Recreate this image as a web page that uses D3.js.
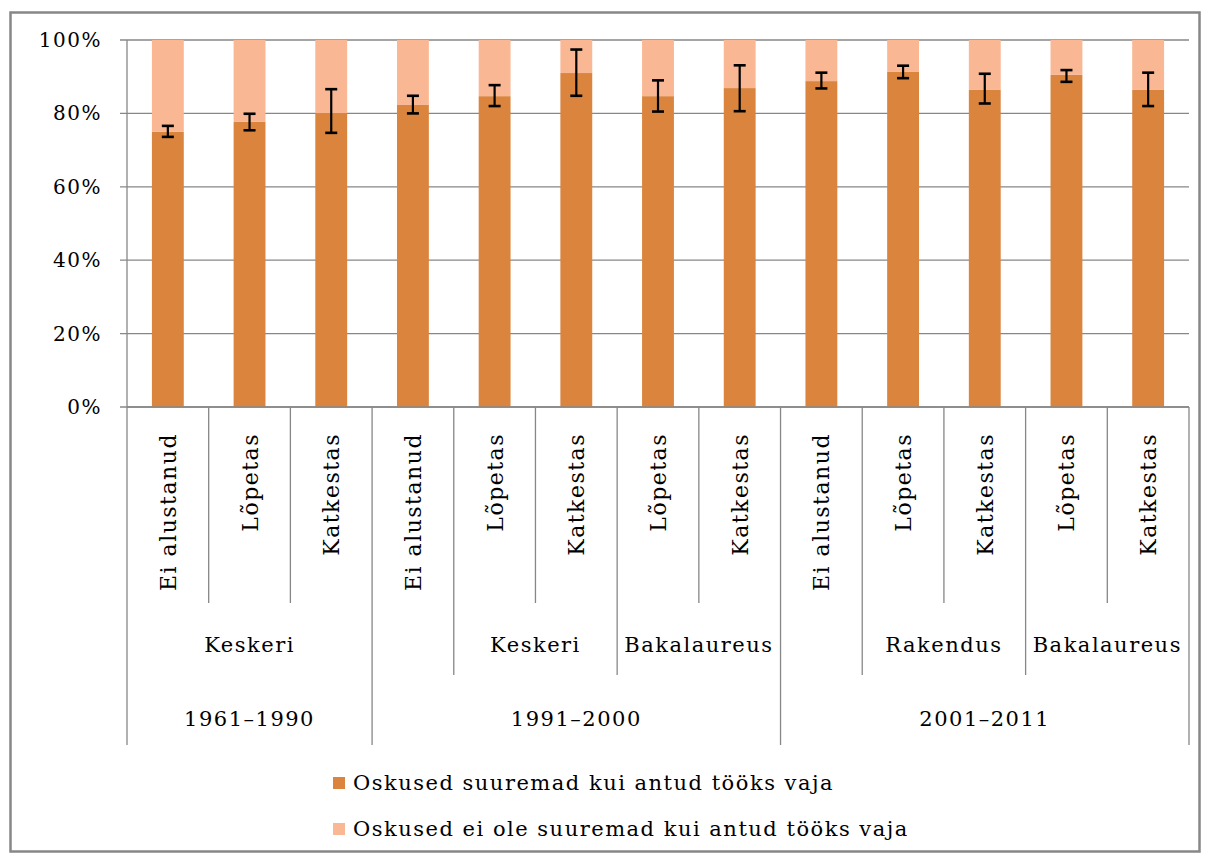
<!DOCTYPE html>
<html><head><meta charset="utf-8">
<script src="https://cdn.jsdelivr.net/npm/d3@7"></script>
<style>body{margin:0;background:#fff}svg{display:block}text{font-family:"DejaVu Serif",serif;fill:#000}</style>
</head><body><svg id="c" width="1206" height="858"></svg>
<script>
const leafLabels = ["Ei alustanud","Lõpetas","Katkestas","Ei alustanud","Lõpetas","Katkestas","Lõpetas","Katkestas","Ei alustanud","Lõpetas","Katkestas","Lõpetas","Katkestas"];
const level2Labels = ["Keskeri","Keskeri","Keskeri","","Keskeri","Keskeri","Bakalaureus","Bakalaureus","","Rakendus","Rakendus","Bakalaureus","Bakalaureus"];
const level3Labels = ["1961–1990","1961–1990","1961–1990","1991–2000","1991–2000","1991–2000","1991–2000","1991–2000","2001–2011","2001–2011","2001–2011","2001–2011","2001–2011"];
const seriesNames = ["Oskused suuremad kui antud tööks vaja","Oskused ei ole suuremad kui antud tööks vaja"];
const suuremad = [75.0,77.7,80.1,82.3,84.7,91.0,84.7,86.9,88.8,91.3,86.4,90.5,86.4];
const eiSuuremad = [25.0,22.3,19.9,17.7,15.3,9.0,15.3,13.1,11.2,8.7,13.6,9.5,13.6];
const errLow = [73.6,75.4,74.7,80.0,82.0,84.8,80.5,80.6,86.8,89.6,82.7,88.6,82.0];
const errHigh = [76.6,79.9,86.6,84.8,87.7,97.4,89.0,93.1,91.1,93.0,90.8,91.8,91.1];
const yTicks = [0,20,40,60,80,100];
const colors = ["#DB843D","#F9B793"];

const svg = d3.select("#c");
const grid = "#878787";
const L=127,R=1189,T=40,B=407;
const idx = d3.range(leafLabels.length);
const x = d3.scaleBand().domain(idx).range([L,R]).padding(0);
const y = d3.scaleLinear().domain([0,100]).range([B,T]);
const bw = x.bandwidth()*0.39;

// outer frame
svg.append("rect").attr("x",10.5).attr("y",12.5).attr("width",1189).attr("height",839)
  .attr("fill","none").attr("stroke",grid).attr("stroke-width",2.5);

// gridlines
svg.append("g").selectAll("line").data(yTicks).join("line")
  .attr("x1",L-7).attr("x2",R).attr("y1",d=>y(d)).attr("y2",d=>y(d))
  .attr("stroke",grid).attr("stroke-width",1.3);
svg.append("g").selectAll("text").data(yTicks).join("text")
  .attr("x",102).attr("y",d=>y(d)).attr("dy","0.35em").attr("text-anchor","end")
  .attr("font-size",20).attr("letter-spacing",1.5).text(d=>d+"%");

// stacked bars
const stackData = idx.map(i=>({i, a:suuremad[i], b:eiSuuremad[i]}));
const stack = d3.stack().keys(["a","b"])(stackData);
svg.append("g").selectAll("g").data(stack).join("g").attr("fill",(d,k)=>colors[k])
  .selectAll("rect").data(d=>d).join("rect")
  .attr("x",d=>x(d.data.i)+x.bandwidth()/2-bw/2).attr("width",bw)
  .attr("y",d=>y(d[1])).attr("height",d=>y(d[0])-y(d[1]));

// error bars
const eg = svg.append("g").attr("stroke","#000");
idx.forEach(i=>{
  const cx = x(i)+x.bandwidth()/2;
  eg.append("line").attr("x1",cx).attr("x2",cx).attr("y1",y(errLow[i])).attr("y2",y(errHigh[i])).attr("stroke-width",2.2);
  [errLow[i],errHigh[i]].forEach(v=>eg.append("line").attr("x1",cx-6).attr("x2",cx+6).attr("y1",y(v)).attr("y2",y(v)).attr("stroke-width",2.6));
});

// axes lines
svg.append("line").attr("x1",L).attr("x2",L).attr("y1",T).attr("y2",745).attr("stroke",grid).attr("stroke-width",1.3);
svg.append("line").attr("x1",L).attr("x2",R).attr("y1",B).attr("y2",B).attr("stroke",grid).attr("stroke-width",1.3);

// category separators
const Y1=603,Y2=675,Y3=745;
for(let i=1;i<=leafLabels.length;i++){
  let yEnd;
  if(i===leafLabels.length || level3Labels[i]!==level3Labels[i-1]) yEnd=Y3;
  else if(level2Labels[i]!==level2Labels[i-1] || level2Labels[i]==="") yEnd=Y2;
  else yEnd=Y1;
  const xx = i===leafLabels.length ? R : x(i);
  svg.append("line").attr("x1",xx).attr("x2",xx).attr("y1",B).attr("y2",yEnd).attr("stroke",grid).attr("stroke-width",1.3);
}

// leaf labels
svg.append("g").selectAll("text").data(idx).join("text")
  .attr("transform",i=>`translate(${x(i)+x.bandwidth()/2+8},433) rotate(-90)`)
  .attr("text-anchor","end").attr("font-size",22).attr("letter-spacing",1.5).text(i=>leafLabels[i]);

// grouped labels
function groups(keyFn){
  const out=[]; let s=0;
  for(let i=1;i<=idx.length;i++){
    if(i===idx.length || keyFn(i)!==keyFn(s)){ out.push({s,e:i-1}); s=i; }
  }
  return out;
}
groups(i=>level3Labels[i]+"|"+level2Labels[i]).filter(g=>level2Labels[g.s]!=="").forEach(g=>{
  const cx=(x(g.s)+x(g.e)+x.bandwidth())/2;
  svg.append("text").attr("x",cx).attr("y",652).attr("text-anchor","middle").attr("font-size",21).attr("letter-spacing",1.5).text(level2Labels[g.s]);
});
groups(i=>level3Labels[i]).forEach(g=>{
  const cx=(x(g.s)+x(g.e)+x.bandwidth())/2;
  svg.append("text").attr("x",cx).attr("y",726).attr("text-anchor","middle").attr("font-size",21).attr("letter-spacing",1.5).text(level3Labels[g.s]);
});

// legend
seriesNames.forEach((n,k)=>{
  const yy = 783 + k*46;
  svg.append("rect").attr("x",333).attr("y",yy-6).attr("width",12).attr("height",12).attr("fill",colors[k]);
  svg.append("text").attr("x",353).attr("y",yy).attr("dy","0.35em").attr("font-size",21).attr("letter-spacing",1.5).text(n);
});
</script></body></html>
